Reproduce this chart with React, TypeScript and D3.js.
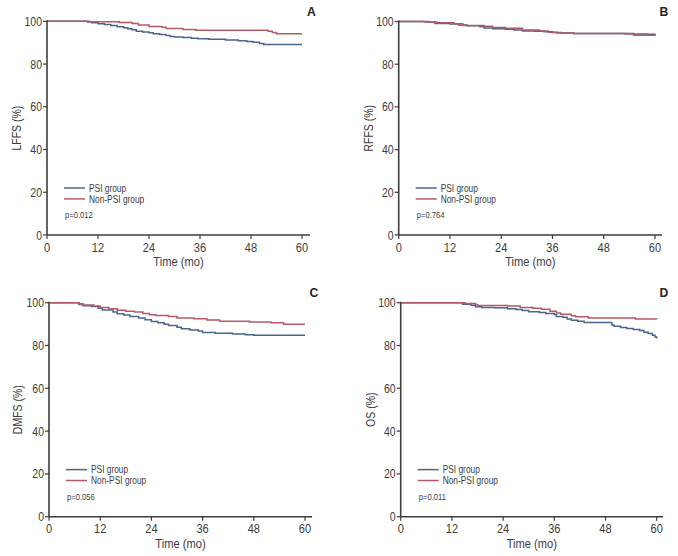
import React from "react";
import * as d3 from "d3";

const xTicks = [0, 12, 24, 36, 48, 60];
const yTicks = [0, 20, 40, 60, 80, 100];
const seriesNames = ["PSI group", "Non-PSI group"];
const panelLetters = ["A", "B", "C", "D"];
const yTitles = ["LFFS (%)", "RFFS (%)", "DMFS (%)", "OS (%)"];
const pValues = ["p=0.012", "p=0.764", "p=0.056", "p=0.011"];

// [month, survival %]
const psiA: [number, number][] = [
  [0, 100], [9.5, 99.7], [10.5, 99.3], [12, 98.9], [13.5, 98.5], [15, 98.0], [16.5, 97.5], [18, 97.0],
  [19, 96.5], [20, 96.0], [21, 95.4], [22.5, 95.0], [24, 94.6], [25, 94.2], [26.5, 93.8], [28, 93.4],
  [29, 92.9], [30, 92.6], [32, 92.4], [34, 92.1], [35.5, 91.8], [38, 91.6], [42, 91.2], [45, 90.9],
  [47, 90.6], [48.5, 90.2], [50, 89.6], [51, 89.2], [60, 89.2],
];
const nonA: [number, number][] = [
  [0, 100], [10, 99.8], [17, 99.4], [20, 99.0], [21.5, 98.3], [24, 97.6], [27, 97.2], [28, 96.6],
  [32, 96.2], [35, 95.8], [52, 95.3], [53, 94.8], [54, 94.2], [60, 94.2],
];
const psiB: [number, number][] = [
  [0, 100], [7, 99.6], [8.5, 99.1], [12, 98.8], [14, 98.4], [16, 98.0], [19, 97.5], [20, 97.0],
  [22, 96.6], [25, 96.4], [27, 96.0], [29, 95.6], [32, 95.4], [34, 95.2], [36, 94.9], [38, 94.6],
  [41, 94.4], [50, 94.4], [55, 94.2], [58, 94.0], [60, 93.6],
];
const nonB: [number, number][] = [
  [0, 100], [6, 99.8], [9, 99.4], [13, 99.0], [15, 98.1], [20, 97.8], [22, 97.2], [25, 96.8],
  [29, 96.0], [33, 95.6], [35, 95.0], [37, 94.6], [41, 94.4], [53, 94.2], [55, 93.6], [60, 93.2],
];
const psiC: [number, number][] = [
  [0, 100], [7, 99.2], [8, 98.6], [10, 98.2], [11.5, 97.4], [12.5, 96.6], [15, 95.6], [16, 94.8],
  [17.5, 94.2], [19, 93.6], [21, 92.9], [22.5, 92.0], [24, 91.2], [25.5, 90.6], [27, 89.9], [28, 89.3],
  [30, 88.5], [31, 87.8], [33, 87.2], [35, 86.8], [36, 86.1], [39, 85.7], [43, 85.4], [46, 85.0],
  [48, 84.8], [60, 84.8],
];
const nonC: [number, number][] = [
  [0, 100], [7, 99.5], [8, 98.9], [10.5, 98.4], [12, 97.8], [14, 97.2], [16, 96.5], [18, 96.0],
  [20, 95.6], [22, 94.9], [23.5, 94.4], [25, 94.0], [28, 93.6], [30, 92.9], [34, 92.5], [37, 91.9],
  [40, 91.3], [47, 91.0], [52, 90.6], [55, 89.9], [60, 89.9],
];
const psiD: [number, number][] = [
  [0, 100], [14.5, 99.3], [16.5, 98.8], [17.5, 98.1], [19, 97.8], [22, 97.6], [25, 97.2], [27, 96.8],
  [28.5, 96.3], [30, 95.8], [32.5, 95.4], [34, 95.0], [36, 94.5], [36.5, 93.6], [38, 93.2], [39, 92.4],
  [40, 91.8], [41.5, 91.3], [43, 90.8], [49.5, 89.6], [50, 89.0], [51.5, 88.4], [53, 88.0], [54.5, 87.5],
  [56, 87.0], [57, 86.2], [58, 85.6], [59, 84.8], [59.6, 84.0], [60, 83.3],
];
const nonD: [number, number][] = [
  [0, 100], [15, 99.6], [17.5, 99.2], [18, 98.7], [25, 98.4], [28, 97.8], [31, 97.4], [33, 96.9],
  [35, 96.0], [36.5, 95.2], [37.5, 94.6], [40, 93.9], [41, 93.4], [44, 92.9], [55, 92.4], [60, 92.3],
];

const psiData = [psiA, psiB, psiC, psiD];
const nonData = [nonA, nonB, nonC, nonD];

const COLORS = ["#4a6590", "#b45a66"];
const AXIS = "#3c3c3c";
const TEXT = "#3c3c3c";
const FONT = "'Liberation Sans', Arial, sans-serif";

// layout: x0 (month 0), x60, axisEnd, yTop (100%), yBottom (0%), letter pos, y-title x
const layouts = [
  { x0: 47, x60: 302, xEnd: 310, yTop: 21.3, yBot: 235, lx: 311.5, ly: 15.5, tx: 16 },
  { x0: 398.7, x60: 655, xEnd: 662, yTop: 21.5, yBot: 235, lx: 664, ly: 15.5, tx: 368 },
  { x0: 49, x60: 305, xEnd: 312, yTop: 302.7, yBot: 516.7, lx: 314, ly: 296.5, tx: 17 },
  { x0: 400.7, x60: 656.7, xEnd: 663, yTop: 302.7, yBot: 516.7, lx: 664, ly: 296.5, tx: 370 },
];

type NTProps = {
  x: number;
  y: number;
  size: number;
  sx?: number;
  rotate?: number;
  anchor?: "start" | "middle" | "end";
  dy?: string;
  weight?: string;
  fill?: string;
  children: React.ReactNode;
};

function NText({ x, y, size, sx = 0.82, rotate = 0, anchor = "start", dy, weight, fill = TEXT, children }: NTProps) {
  return (
    <text
      transform={`translate(${x},${y}) rotate(${rotate}) scale(${sx},1)`}
      textAnchor={anchor}
      dy={dy}
      fontSize={size}
      fontWeight={weight}
      fill={fill}
      fontFamily={FONT}
    >
      {children}
    </text>
  );
}

function Panel({ i }: { i: number }) {
  const L = layouts[i];
  const x = d3.scaleLinear().domain([0, 60]).range([L.x0, L.x60]);
  const y = d3.scaleLinear().domain([0, 100]).range([L.yBot, L.yTop]);
  const line = d3
    .line<[number, number]>()
    .x((d) => x(d[0]))
    .y((d) => y(d[1]))
    .curve(d3.curveStepAfter);
  const series = [psiData[i], nonData[i]];
  const yMid = (L.yTop + L.yBot) / 2;
  const xMid = (L.x0 + L.xEnd) / 2;
  return (
    <g>
      {series.map((s, k) => (
        <path key={k} d={line(s) || ""} fill="none" stroke={COLORS[k]} strokeWidth={1.5} />
      ))}
      <line x1={L.x0} x2={L.x0} y1={L.yTop - 1} y2={L.yBot} stroke={AXIS} strokeWidth={1.6} />
      <line x1={L.x0} x2={L.xEnd} y1={L.yBot} y2={L.yBot} stroke={AXIS} strokeWidth={1.6} />
      {yTicks.map((t) => (
        <g key={"y" + t}>
          <line x1={L.x0 - 4} x2={L.x0} y1={y(t)} y2={y(t)} stroke={AXIS} strokeWidth={1.2} />
          <NText x={L.x0 - 5} y={y(t)} dy="0.36em" anchor="end" size={12.5} sx={0.84}>
            {t}
          </NText>
        </g>
      ))}
      {xTicks.map((t) => (
        <g key={"x" + t}>
          <line x1={x(t)} x2={x(t)} y1={L.yBot} y2={L.yBot + 4} stroke={AXIS} strokeWidth={1.2} />
          <NText x={x(t)} y={L.yBot + 16.5} anchor="middle" size={13.5} sx={0.82}>
            {t}
          </NText>
        </g>
      ))}
      <NText x={xMid} y={L.yBot + 31} anchor="middle" size={13.6}>
        Time (mo)
      </NText>
      <NText x={L.tx} y={yMid} rotate={-90} dy="0.36em" anchor="middle" size={12.8}>
        {yTitles[i]}
      </NText>
      <NText x={L.lx} y={L.ly} anchor="middle" size={13.5} sx={0.9} weight="bold" fill="#222">
        {panelLetters[i]}
      </NText>
      {seriesNames.map((n, k) => (
        <g key={n}>
          <line
            x1={L.x0 + 17}
            x2={L.x0 + 38}
            y1={y(22 - k * 5.1)}
            y2={y(22 - k * 5.1)}
            stroke={COLORS[k]}
            strokeWidth={1.5}
          />
          <NText x={L.x0 + 42} y={y(22 - k * 5.1)} dy="0.36em" size={10.2}>
            {n}
          </NText>
        </g>
      ))}
      <NText x={L.x0 + 18} y={y(8)} size={9.3}>
        {pValues[i]}
      </NText>
    </g>
  );
}

export default function App() {
  return (
    <svg
      width={678}
      height={556}
      viewBox="0 0 678 556"
      style={{ position: "absolute", left: 0, top: 0, background: "#fff" }}
    >
      <rect width={678} height={556} fill="#fff" />
      {[0, 1, 2, 3].map((i) => (
        <Panel key={i} i={i} />
      ))}
    </svg>
  );
}
